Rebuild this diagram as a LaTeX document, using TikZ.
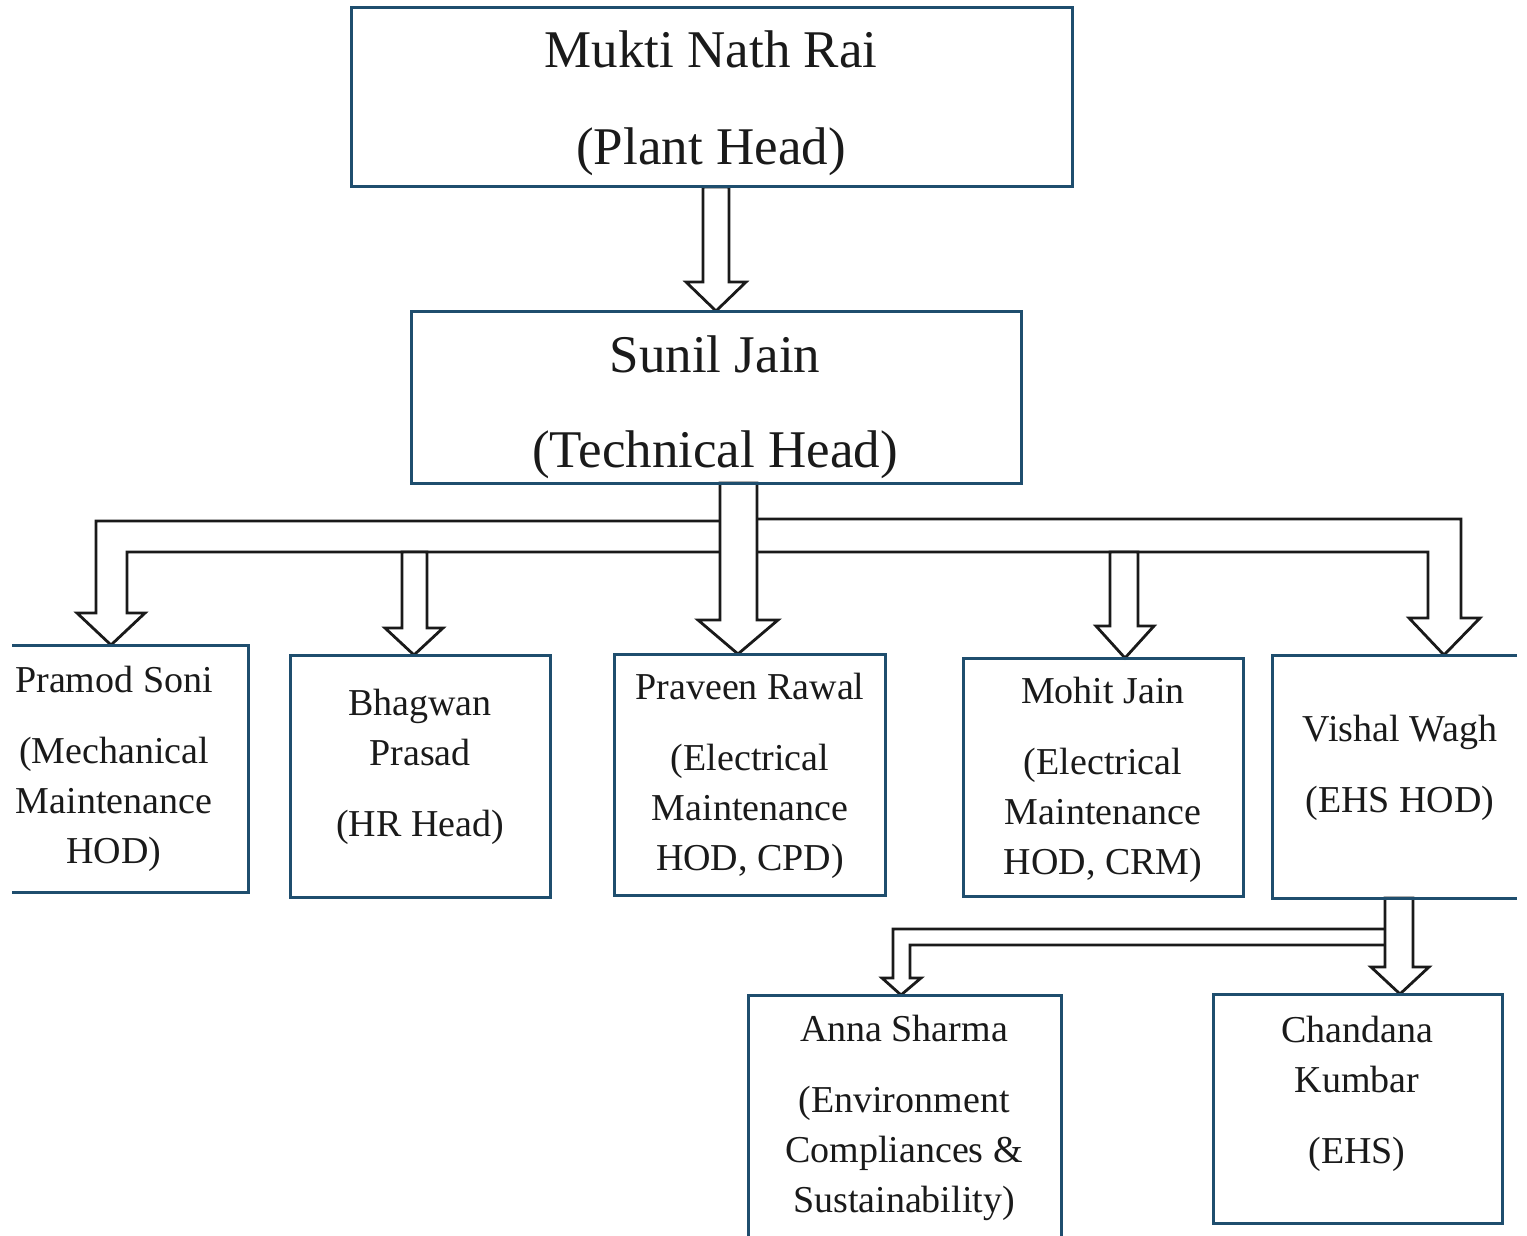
\documentclass[tikz,border=0pt]{standalone}
\usepackage{fontspec}
\setmainfont{Liberation Serif}
\usetikzlibrary{fit,calc}
\definecolor{boxblue}{HTML}{1F4E6E}
\definecolor{ink}{HTML}{1A1A1A}
\tikzset{
 area/.style={inner sep=0pt, outer sep=0pt},
 frame/.style={draw=boxblue, line width=1.5pt, line join=miter},
 blk/.style={draw=ink, fill=white, line width=1.4pt, line join=miter},
 bigtxt/.style={anchor=base, align=center, text=ink, inner sep=0pt, font={\fontsize{26.5pt}{48.5pt}\selectfont}},
 smalltxt/.style={anchor=base, align=center, text=ink, inner sep=0pt, font={\fontsize{19pt}{25pt}\selectfont}},
}
\begin{document}
\begin{tikzpicture}[x=0.5pt,y=-0.5pt]
\useasboundingbox (0,0) rectangle (1527,1236);
\fill[white] (0,0) rectangle (1527,1236);
\clip (0,0) rectangle (1527,1236);

% box areas
\node[area, fit={(351,8)(1072,187)}] (plant) {};
\node[area, fit={(411,311)(1021,483)}] (sunil) {};
\node[area, fit={(12,645)(248,892)}] (pramod) {};
\node[area, fit={(290,655)(550,897)}] (bhagwan) {};
\node[area, fit={(614,654)(885,895)}] (praveen) {};
\node[area, fit={(963,658)(1243,896)}] (mohit) {};
\node[area, fit={(1272,655)(1517,898)}] (vishal) {};
\node[area, fit={(748,995)(1061,1240)}] (anna) {};
\node[area, fit={(1213,994)(1502,1223)}] (chandana) {};

% connectors
\draw[blk] (703,0 |- plant.south) -- (703,282) -- (686,282) -- (716,0 |- sunil.north) -- (746,282) -- (729,282) -- (729,0 |- plant.south) -- cycle;

\draw[blk] ($(sunil.south)+(22,38)$) -- (96,521) -- (96,613) -- (77,613) -- (111,0 |- pramod.north) -- (145,613) -- (127,613) -- (127,552) -- ($(sunil.south)+(22,69)$) -- cycle;
\draw[blk] ($(sunil.south)+(22,36)$) -- (1461,519) -- (1461,618) -- (1480,618) -- (1444,0 |- vishal.north) -- (1409,618) -- (1428,618) -- (1428,552) -- ($(sunil.south)+(22,69)$) -- cycle;
\draw[blk] (402,552) -- (402,628) -- (385,628) -- (414,0 |- bhagwan.north) -- (443,628) -- (427,628) -- (427,552) -- cycle;
\draw[blk] (1110,552) -- (1110,626) -- (1096,626) -- (1125,0 |- mohit.north) -- (1154,626) -- (1138,626) -- (1138,552) -- cycle;
\draw[blk] (720,0 |- sunil.south) -- (720,620) -- (698,620) -- (738,0 |- praveen.north) -- (778,620) -- (757,620) -- (757,0 |- sunil.south) -- cycle;

\draw[blk] (1399,929) -- (893,929) -- (893,978) -- (882,978) -- (901,0 |- anna.north) -- (921,978) -- (910,978) -- (910,945) -- (1399,945) -- cycle;
\draw[blk] (1385,0 |- vishal.south) -- (1385,967) -- (1371,967) -- (1400,0 |- chandana.north) -- (1429,967) -- (1413,967) -- (1413,0 |- vishal.south) -- cycle;

% box borders
\draw[frame] (plant.north west) rectangle (plant.south east);
\draw[frame] (sunil.north west) rectangle (sunil.south east);
\draw[frame] (pramod.north west) -- (pramod.north east) -- (pramod.south east) -- (pramod.south west);
\draw[frame] (bhagwan.north west) rectangle (bhagwan.south east);
\draw[frame] (praveen.north west) rectangle (praveen.south east);
\draw[frame] (mohit.north west) rectangle (mohit.south east);
\draw[frame] (vishal.north east) -- (vishal.north west) -- (vishal.south west) -- (vishal.south east);
\draw[frame] (anna.south west) -- (anna.north west) -- (anna.north east) -- (anna.south east);
\draw[frame] (chandana.north west) rectangle (chandana.south east);

% texts (anchored at the baseline of the last line)
\node[bigtxt] (plantT) at (711,164) {Mukti Nath Rai\\(Plant Head)};
\node[bigtxt, font={\fontsize{26.5pt}{47.5pt}\selectfont}] (sunilT) at (715,467) {Sunil Jain\\(Technical Head)};
\node[smalltxt] (pramodT) at (114,863) {Pramod Soni\\[10.5pt](Mechanical\\Maintenance\\HOD)};
\node[smalltxt] (bhagwanT) at (420,836) {Bhagwan\\Prasad\\[10.5pt](HR Head)};
\node[smalltxt] (praveenT) at (750,870) {Praveen Rawal\\[10.5pt](Electrical\\Maintenance\\HOD, CPD)};
\node[smalltxt] (mohitT) at (1103,874) {Mohit Jain\\[10.5pt](Electrical\\Maintenance\\HOD, CRM)};
\node[smalltxt] (vishalT) at (1400,812) {Vishal Wagh\\[10.5pt](EHS HOD)};
\node[smalltxt] (annaT) at (904,1212) {Anna Sharma\\[10.5pt](Environment\\Compliances \&\\Sustainability)};
\node[smalltxt] (chandanaT) at (1357,1163) {Chandana\\Kumbar\\[10.5pt](EHS)};
\end{tikzpicture}
\end{document}
